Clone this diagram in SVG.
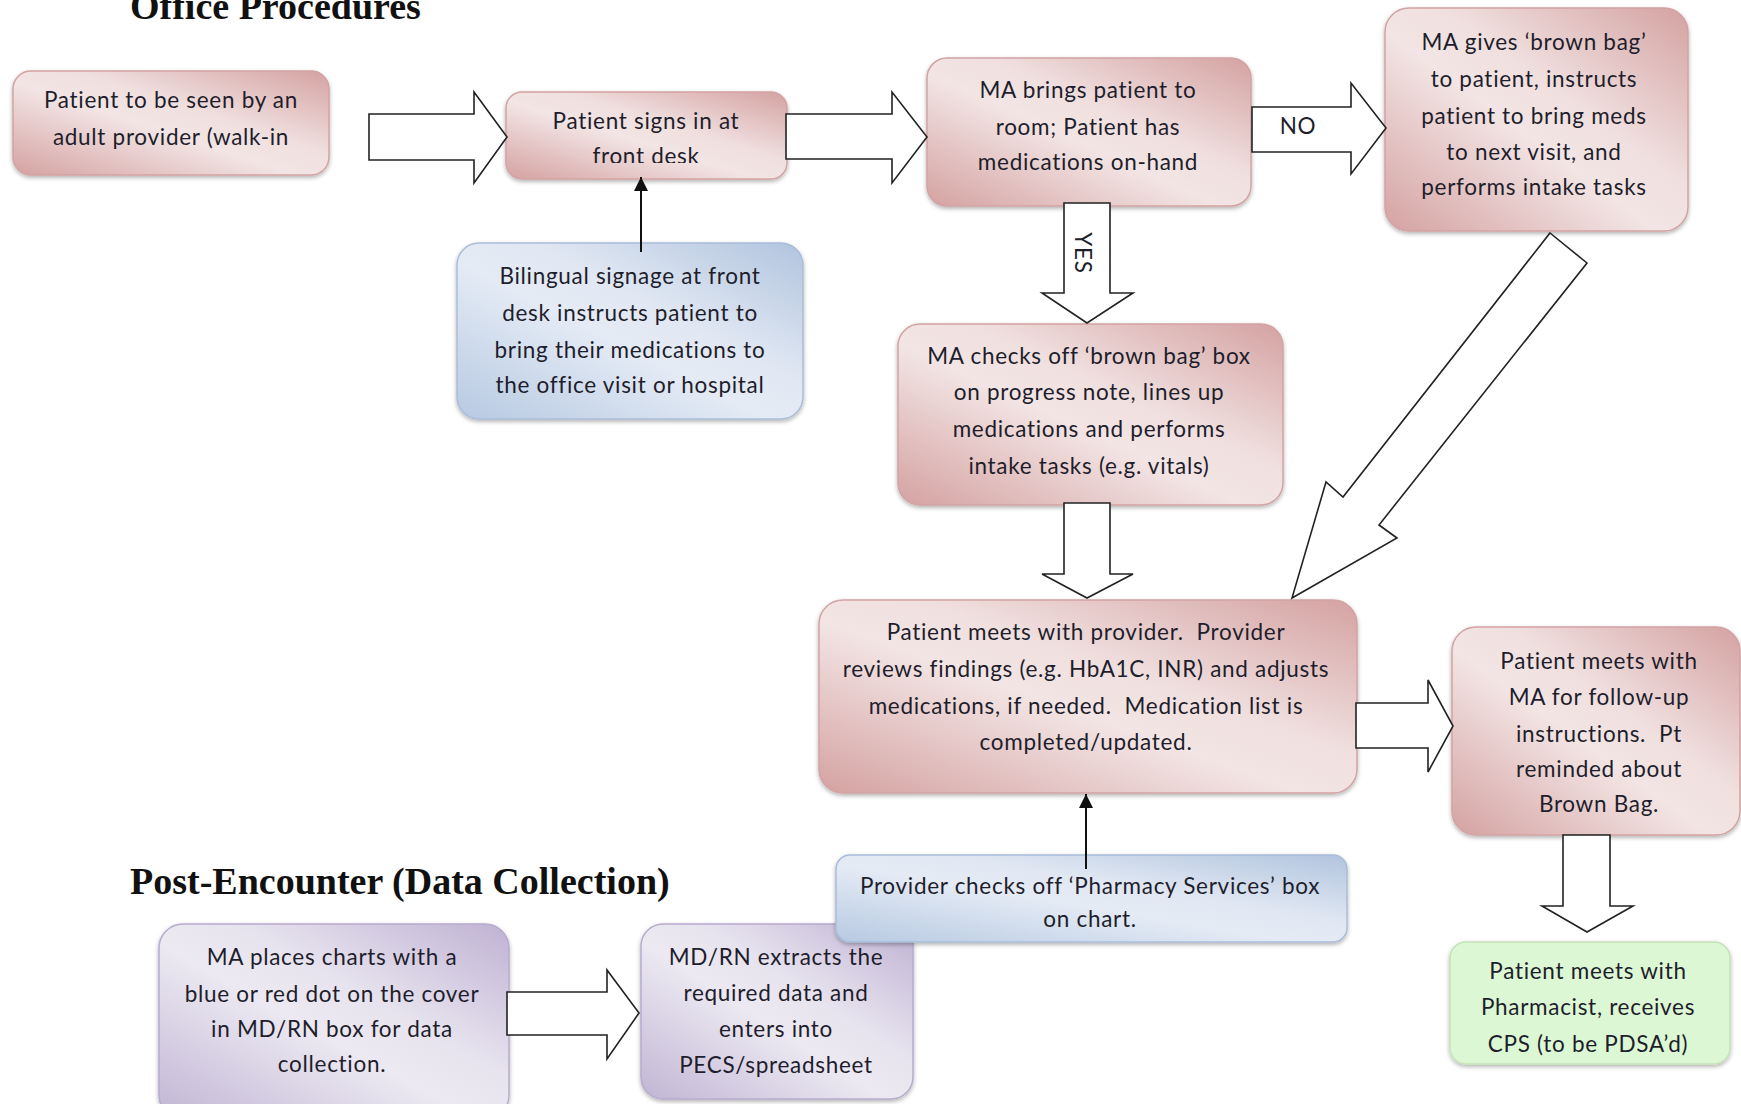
<svg xmlns="http://www.w3.org/2000/svg" width="1741" height="1104" viewBox="0 0 1741 1104">
<style>
  .t { font-family: Lato, "Liberation Sans", sans-serif; font-size: 22.5px; letter-spacing: 0.7px; fill: #1e1e2c; text-anchor: middle; white-space: pre; }
  .h { font-family: "Liberation Serif", "Times New Roman", serif; font-size: 38px; font-weight: bold; fill: #111; }
  .pink { fill: url(#gPink); stroke: #d3a3a3; stroke-width: 1.5; filter: url(#sh); }
  .blue { fill: url(#gBlue); stroke: #a9bdd9; stroke-width: 1.5; filter: url(#sh); }
  .purple { fill: url(#gPurple); stroke: #b8abce; stroke-width: 1.5; filter: url(#sh); }
  .green { fill: #dcf7d4; stroke: #c3e2b9; stroke-width: 1.5; filter: url(#sh); }
  .blk { fill: #fff; stroke: #222; stroke-width: 1.6; stroke-linejoin: miter; }
  .thin { stroke: #111; stroke-width: 2; fill: none; marker-end: url(#ah); }
</style>
<defs>
  <linearGradient id="gPink" x1="0" y1="1" x2="1" y2="0">
    <stop offset="0" stop-color="#d4a2a1"/>
    <stop offset="0.45" stop-color="#f3e5e5"/>
    <stop offset="0.6" stop-color="#f0dfdf"/>
    <stop offset="1" stop-color="#d4a2a1"/>
  </linearGradient>
  <linearGradient id="gBlue" x1="0" y1="1" x2="1" y2="0">
    <stop offset="0" stop-color="#b7c9e2"/>
    <stop offset="0.45" stop-color="#e4ebf5"/>
    <stop offset="0.6" stop-color="#e1e8f3"/>
    <stop offset="1" stop-color="#b1c4de"/>
  </linearGradient>
  <linearGradient id="gPurple" x1="0" y1="1" x2="1" y2="0">
    <stop offset="0" stop-color="#c1b5d4"/>
    <stop offset="0.45" stop-color="#ece9f2"/>
    <stop offset="0.6" stop-color="#e8e4ef"/>
    <stop offset="1" stop-color="#bfb2d3"/>
  </linearGradient>
  <filter id="sh" x="-5%" y="-5%" width="110%" height="120%">
    <feDropShadow dx="0" dy="2" stdDeviation="2" flood-color="#000" flood-opacity="0.3"/>
  </filter>
  <marker id="ah" viewBox="0 0 10 10" refX="10" refY="5" markerWidth="17" markerHeight="14" markerUnits="userSpaceOnUse" orient="auto">
    <path d="M0,0 L10,5 L0,10 z" fill="#111"/>
  </marker>
  <clipPath id="clipBox2"><rect x="506" y="91" width="281" height="72"/></clipPath>
</defs>

<text class="h" x="130" y="19">Office Procedures</text>
<text class="h" x="130" y="894">Post-Encounter (Data Collection)</text>

<g id="node-walkin">
  <rect class="pink" x="13" y="71" width="316" height="104" rx="18"/>
  <text class="t" x="171" y="108">Patient to be seen by an</text>
  <text class="t" x="171" y="145">adult provider (walk-in</text>
</g>
<g id="node-signin">
  <rect class="pink" x="506" y="92" width="281" height="87" rx="16"/>
  <g clip-path="url(#clipBox2)">
    <text class="t" x="646" y="129">Patient signs in at</text>
    <text class="t" x="646" y="164">front desk</text>
  </g>
</g>
<g id="node-room">
  <rect class="pink" x="927" y="58" width="324" height="148" rx="20"/>
  <text class="t" x="1088" y="98">MA brings patient to</text>
  <text class="t" x="1088" y="135">room; Patient has</text>
  <text class="t" x="1088" y="170">medications on-hand</text>
</g>
<g id="node-brownbag">
  <rect class="pink" x="1385" y="8" width="303" height="223" rx="24"/>
  <text class="t" x="1534" y="50">MA gives ‘brown bag’</text>
  <text class="t" x="1534" y="87">to patient, instructs</text>
  <text class="t" x="1534" y="124">patient to bring meds</text>
  <text class="t" x="1534" y="160">to next visit, and</text>
  <text class="t" x="1534" y="195">performs intake tasks</text>
</g>
<g id="node-signage">
  <rect class="blue" x="457" y="243" width="346" height="176" rx="22"/>
  <text class="t" x="630" y="284">Bilingual signage at front</text>
  <text class="t" x="630" y="321">desk instructs patient to</text>
  <text class="t" x="630" y="358">bring their medications to</text>
  <text class="t" x="630" y="393">the office visit or hospital</text>
</g>
<g id="node-checks">
  <rect class="pink" x="898" y="324" width="385" height="181" rx="22"/>
  <text class="t" x="1089" y="364">MA checks off ‘brown bag’ box</text>
  <text class="t" x="1089" y="400">on progress note, lines up</text>
  <text class="t" x="1089" y="437">medications and performs</text>
  <text class="t" x="1089" y="474">intake tasks (e.g. vitals)</text>
</g>
<g id="node-provider">
  <rect class="pink" x="819" y="600" width="538" height="193" rx="24"/>
  <text class="t" x="1086" y="640">Patient meets with provider.  Provider</text>
  <text class="t" x="1086" y="677">reviews findings (e.g. HbA1C, INR) and adjusts</text>
  <text class="t" x="1086" y="714">medications, if needed.  Medication list is</text>
  <text class="t" x="1086" y="750">completed/updated.</text>
</g>
<g id="node-followup">
  <rect class="pink" x="1452" y="627" width="288" height="208" rx="24"/>
  <text class="t" x="1599" y="669">Patient meets with</text>
  <text class="t" x="1599" y="705">MA for follow-up</text>
  <text class="t" x="1599" y="742">instructions.  Pt</text>
  <text class="t" x="1599" y="777">reminded about</text>
  <text class="t" x="1599" y="812">Brown Bag.</text>
</g>
<g id="node-pharmacist">
  <rect class="green" x="1450" y="942" width="280" height="122" rx="16"/>
  <text class="t" x="1588" y="979">Patient meets with</text>
  <text class="t" x="1588" y="1015">Pharmacist, receives</text>
  <text class="t" x="1588" y="1052">CPS (to be PDSA’d)</text>
</g>
<g id="node-places">
  <rect class="purple" x="159" y="924" width="350" height="195" rx="24"/>
  <text class="t" x="332" y="965">MA places charts with a</text>
  <text class="t" x="332" y="1002">blue or red dot on the cover</text>
  <text class="t" x="332" y="1037">in MD/RN box for data</text>
  <text class="t" x="332" y="1072">collection.</text>
</g>
<g id="node-extracts">
  <rect class="purple" x="641" y="924" width="272" height="175" rx="22"/>
  <text class="t" x="776" y="965">MD/RN extracts the</text>
  <text class="t" x="776" y="1001">required data and</text>
  <text class="t" x="776" y="1037">enters into</text>
  <text class="t" x="776" y="1073">PECS/spreadsheet</text>
</g>
<g id="node-pharmservices">
  <rect class="blue" x="836" y="855" width="511" height="87" rx="14"/>
  <text class="t" x="1090" y="894">Provider checks off ‘Pharmacy Services’ box</text>
  <text class="t" x="1090" y="927">on chart.</text>
</g>

<g id="connectors">
  <polygon class="blk" points="369,114 474,114 474,92 507,137 474,183 474,160 369,160"/>
  <polygon class="blk" points="786,114 892,114 892,92 927,137 892,183 892,159 786,159"/>
  <g id="arrow-no">
    <polygon class="blk" points="1252,107 1351,107 1351,83 1386,128 1351,174 1351,152 1252,152"/>
    <text class="t" x="1298" y="134">NO</text>
  </g>
  <g id="arrow-yes">
    <polygon class="blk" points="1064,203 1110,203 1110,293 1133,293 1087,323 1042,293 1064,293"/>
    <text class="t" transform="translate(1075,253) rotate(90)" x="0" y="0">YES</text>
  </g>
  <polygon class="blk" points="1064,503 1110,503 1110,574 1133,574 1087,598 1042,574 1064,574"/>
  <polygon class="blk" points="1550,233 1587,263 1379,525 1397,538 1292,598 1326,482 1343,497"/>
  <polygon class="blk" points="1356,703 1428,703 1428,680 1453,726 1428,772 1428,748 1356,748"/>
  <polygon class="blk" points="1563,835 1610,835 1610,906 1633,906 1587,932 1542,906 1563,906"/>
  <polygon class="blk" points="507,992 607,992 607,970 639,1013 607,1059 607,1035 507,1035"/>
  <line class="thin" x1="641" y1="252" x2="641" y2="177"/>
  <line class="thin" x1="1086" y1="869" x2="1086" y2="794"/>
</g>
</svg>
